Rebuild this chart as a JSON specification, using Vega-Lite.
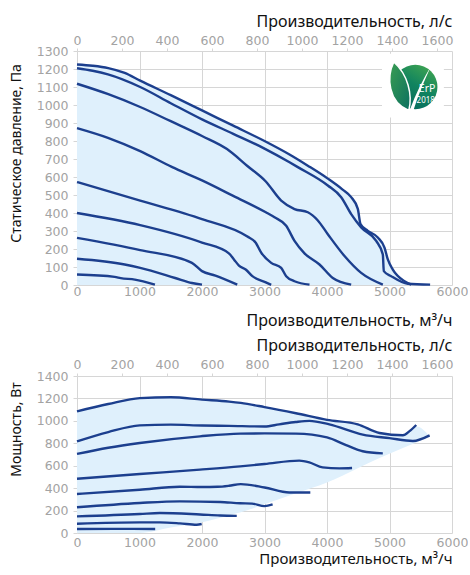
{
  "$schema": "https://vega.github.io/schema/vega-lite/v6.json",
  "padding": {"left": 9, "top": 13, "right": 0, "bottom": 0},
  "spacing": 8,
  "datasets": {
    "pres": [
      {"s":"c1","x":0,"y":1225},{"s":"c1","x":250,"y":1218},{"s":"c1","x":500,"y":1205},{"s":"c1","x":763,"y":1178},{"s":"c1","x":1011,"y":1135},{"s":"c1","x":1500,"y":1055},{"s":"c1","x":2000,"y":970},{"s":"c1","x":2500,"y":885},{"s":"c1","x":3000,"y":800},{"s":"c1","x":3400,"y":725},{"s":"c1","x":3693,"y":663},{"s":"c1","x":4013,"y":591},{"s":"c1","x":4250,"y":530},{"s":"c1","x":4387,"y":488},{"s":"c1","x":4493,"y":423},{"s":"c1","x":4536,"y":339},{"s":"c1","x":4653,"y":301},{"s":"c1","x":4813,"y":264},{"s":"c1","x":4920,"y":208},{"s":"c1","x":4973,"y":142},{"s":"c1","x":5053,"y":86},{"s":"c1","x":5240,"y":21},{"s":"c1","x":5347,"y":2},
      {"s":"c2","x":0,"y":1204},{"s":"c2","x":250,"y":1190},{"s":"c2","x":495,"y":1170},{"s":"c2","x":1011,"y":1100},{"s":"c2","x":1500,"y":1010},{"s":"c2","x":2000,"y":920},{"s":"c2","x":2500,"y":840},{"s":"c2","x":3000,"y":758},{"s":"c2","x":3400,"y":682},{"s":"c2","x":3533,"y":655},{"s":"c2","x":4013,"y":553},{"s":"c2","x":4227,"y":488},{"s":"c2","x":4387,"y":394},{"s":"c2","x":4547,"y":320},{"s":"c2","x":4787,"y":245},{"s":"c2","x":4893,"y":170},{"s":"c2","x":4909,"y":77},{"s":"c2","x":5027,"y":49},{"s":"c2","x":5293,"y":7},{"s":"c2","x":5650,"y":2},
      {"s":"c3","x":0,"y":1118},{"s":"c3","x":500,"y":1060},{"s":"c3","x":1011,"y":989},{"s":"c3","x":1500,"y":910},{"s":"c3","x":2000,"y":828},{"s":"c3","x":2400,"y":755},{"s":"c3","x":2726,"y":661},{"s":"c3","x":3021,"y":575},{"s":"c3","x":3267,"y":469},{"s":"c3","x":3480,"y":422},{"s":"c3","x":3693,"y":404},{"s":"c3","x":3850,"y":360},{"s":"c3","x":4013,"y":282},{"s":"c3","x":4280,"y":161},{"s":"c3","x":4547,"y":67},{"s":"c3","x":4893,"y":2},
      {"s":"c4","x":0,"y":872},{"s":"c4","x":495,"y":818},{"s":"c4","x":1011,"y":744},{"s":"c4","x":1516,"y":656},{"s":"c4","x":2000,"y":581},{"s":"c4","x":2500,"y":495},{"s":"c4","x":3021,"y":404},{"s":"c4","x":3160,"y":376},{"s":"c4","x":3347,"y":329},{"s":"c4","x":3480,"y":245},{"s":"c4","x":3640,"y":176},{"s":"c4","x":3880,"y":114},{"s":"c4","x":4093,"y":39},{"s":"c4","x":4387,"y":2},
      {"s":"c5","x":0,"y":572},{"s":"c5","x":1011,"y":469},{"s":"c5","x":2000,"y":366},{"s":"c5","x":2726,"y":269},{"s":"c5","x":2860,"y":235},{"s":"c5","x":2947,"y":180},{"s":"c5","x":3107,"y":123},{"s":"c5","x":3267,"y":95},{"s":"c5","x":3347,"y":49},{"s":"c5","x":3480,"y":21},{"s":"c5","x":3720,"y":2},
      {"s":"c6","x":0,"y":400},{"s":"c6","x":1011,"y":333},{"s":"c6","x":2000,"y":236},{"s":"c6","x":2430,"y":176},{"s":"c6","x":2511,"y":142},{"s":"c6","x":2591,"y":108},{"s":"c6","x":2699,"y":86},{"s":"c6","x":2806,"y":49},{"s":"c6","x":3021,"y":15},{"s":"c6","x":3107,"y":1},
      {"s":"c7","x":0,"y":262},{"s":"c7","x":1011,"y":194},{"s":"c7","x":1839,"y":123},{"s":"c7","x":2000,"y":77},{"s":"c7","x":2215,"y":52},{"s":"c7","x":2564,"y":2},
      {"s":"c8","x":0,"y":146},{"s":"c8","x":763,"y":114},{"s":"c8","x":1011,"y":95},{"s":"c8","x":1570,"y":39},{"s":"c8","x":1839,"y":11},{"s":"c8","x":2000,"y":2},
      {"s":"c9","x":0,"y":58},{"s":"c9","x":602,"y":45},{"s":"c9","x":700,"y":38},{"s":"c9","x":925,"y":30},{"s":"c9","x":1247,"y":2}
    ],
    "pfill": [
      {"x":0,"y":1225},{"x":250,"y":1218},{"x":500,"y":1205},{"x":763,"y":1178},{"x":1011,"y":1135},{"x":1500,"y":1055},{"x":2000,"y":970},{"x":2500,"y":885},{"x":3000,"y":800},{"x":3400,"y":725},{"x":3693,"y":663},{"x":4013,"y":591},{"x":4250,"y":530},{"x":4387,"y":488},{"x":4493,"y":423},{"x":4536,"y":339},{"x":4653,"y":301},{"x":4813,"y":264},{"x":4920,"y":208},{"x":4973,"y":142},{"x":5053,"y":86},{"x":5240,"y":21},{"x":5347,"y":3},{"x":5650,"y":0}
    ],
    "pow": [
      {"s":"A","x":0,"y":1085},{"s":"A","x":500,"y":1150},{"s":"A","x":1005,"y":1203},{"s":"A","x":1500,"y":1210},{"s":"A","x":2000,"y":1189},{"s":"A","x":2433,"y":1172},{"s":"A","x":2620,"y":1160},{"s":"A","x":3000,"y":1123},{"s":"A","x":3503,"y":1068},{"s":"A","x":4000,"y":1009},{"s":"A","x":4492,"y":969},{"s":"A","x":4840,"y":892},{"s":"A","x":5214,"y":871},{"s":"A","x":5321,"y":908},{"s":"A","x":5428,"y":963},
      {"s":"B","x":0,"y":817},{"s":"B","x":500,"y":900},{"s":"B","x":1005,"y":960},{"s":"B","x":1500,"y":966},{"s":"B","x":2000,"y":958},{"s":"B","x":2433,"y":955},{"s":"B","x":3000,"y":950},{"s":"B","x":3235,"y":969},{"s":"B","x":3500,"y":990},{"s":"B","x":3717,"y":1000},{"s":"B","x":4037,"y":969},{"s":"B","x":4572,"y":877},{"s":"B","x":5000,"y":846},{"s":"B","x":5374,"y":821},{"s":"B","x":5642,"y":871},
      {"s":"C","x":0,"y":705},{"s":"C","x":500,"y":760},{"s":"C","x":1005,"y":803},{"s":"C","x":1968,"y":862},{"s":"C","x":2610,"y":886},{"s":"C","x":3000,"y":888},{"s":"C","x":3503,"y":886},{"s":"C","x":4000,"y":852},{"s":"C","x":4305,"y":784},{"s":"C","x":4572,"y":729},{"s":"C","x":4893,"y":710},
      {"s":"D","x":0,"y":484},{"s":"D","x":1005,"y":526},{"s":"D","x":1968,"y":565},{"s":"D","x":2610,"y":594},{"s":"D","x":3000,"y":615},{"s":"D","x":3556,"y":645},{"s":"D","x":3717,"y":630},{"s":"D","x":3930,"y":585},{"s":"D","x":4198,"y":576},{"s":"D","x":4401,"y":579},
      {"s":"E","x":0,"y":348},{"s":"E","x":1005,"y":386},{"s":"E","x":1645,"y":413},{"s":"E","x":2000,"y":410},{"s":"E","x":2250,"y":412},{"s":"E","x":2433,"y":421},{"s":"E","x":2620,"y":436},{"s":"E","x":3000,"y":406},{"s":"E","x":3396,"y":361},{"s":"E","x":3733,"y":361},
      {"s":"F","x":0,"y":229},{"s":"F","x":1005,"y":268},{"s":"F","x":1645,"y":282},{"s":"F","x":2289,"y":277},{"s":"F","x":2610,"y":265},{"s":"F","x":2800,"y":262},{"s":"F","x":3000,"y":240},{"s":"F","x":3130,"y":255},
      {"s":"G","x":0,"y":148},{"s":"G","x":1005,"y":169},{"s":"G","x":1326,"y":178},{"s":"G","x":1968,"y":165},{"s":"G","x":2289,"y":156},{"s":"G","x":2556,"y":153},
      {"s":"H","x":0,"y":83},{"s":"H","x":1005,"y":95},{"s":"H","x":1326,"y":95},{"s":"H","x":1647,"y":86},{"s":"H","x":1914,"y":74},{"s":"H","x":1995,"y":80},
      {"s":"I","x":0,"y":36},{"s":"I","x":600,"y":37},{"s":"I","x":1251,"y":36}
    ],
    "wfill": [
      {"x":0,"y":1085,"y2":0},{"x":500,"y":1150,"y2":0},{"x":1005,"y":1203,"y2":0},{"x":1500,"y":1210,"y2":48},{"x":2000,"y":1189,"y2":95},{"x":2433,"y":1172,"y2":157},{"x":2620,"y":1160,"y2":184},{"x":3000,"y":1123,"y2":257},{"x":3503,"y":1068,"y2":354},{"x":4000,"y":1009,"y2":450},{"x":4492,"y":969,"y2":578},{"x":4840,"y":892,"y2":668},{"x":5214,"y":875,"y2":759},{"x":5428,"y":950,"y2":808},{"x":5650,"y":860,"y2":860}
    ]
  },
  "vconcat": [
    {
      "width": 375,
      "height": 234,
      "layer": [
        {
          "layer": [
            {
              "data": {"name": "pfill"},
              "mark": {"type": "area", "color": "#dff0fc", "interpolate": "monotone"},
              "encoding": {
                "x": {"field": "x", "type": "quantitative", "scale": {"domain": [0, 6000], "nice": false},
                  "axis": {"values": [0,1000,2000,3000,4000,5000,6000], "tickCount": 20, "format": "d", "labelOverlap": false, "labelFlush": false, "title": "Производительность, м³/ч", "titleAnchor": "end", "tickSize": 0, "labelPadding": 0, "titlePadding": 15, "domain": false}},
                "y": {"field": "y", "type": "quantitative", "scale": {"domain": [0, 1300], "nice": false},
                  "axis": {"values": [0,100,200,300,400,500,600,700,800,900,1000,1100,1200,1300], "tickCount": 30, "format": "d", "labelOverlap": false, "labelFlush": false, "title": "Статическое давление, Па", "titleFontSize": 14, "titleY": 102, "tickSize": 4, "labelPadding": 5, "titlePadding": 13, "domain": false}}
              }
            },
            {
              "data": {"values": [{"x": 4880, "x2": 5870, "y": 930, "y2": 1285}]},
              "mark": {"type": "rect", "color": "white"},
              "encoding": {
                "x": {"field": "x", "type": "quantitative"}, "x2": {"field": "x2"},
                "y": {"field": "y", "type": "quantitative"}, "y2": {"field": "y2"}
              }
            },
            {
              "data": {"name": "pres"},
              "mark": {"type": "line", "color": "#1c3f8e", "strokeWidth": 2.4, "interpolate": "monotone"},
              "encoding": {
                "x": {"field": "x", "type": "quantitative"},
                "y": {"field": "y", "type": "quantitative"},
                "detail": {"field": "s"}
              }
            },
            {
              "data": {"values": [{"x": 5413, "y": 1100}]},
              "mark": {"type": "point", "shape": "circle", "filled": true, "size": 1963, "opacity": 1, "strokeWidth": 0,
                "fill": {"gradient": "linear", "x1": 0.9, "y1": 0, "x2": 0.3, "y2": 1, "stops": [{"offset": 0, "color": "#45a84f"}, {"offset": 0.5, "color": "#11845f"}, {"offset": 1, "color": "#066a5f"}]}},
              "encoding": {"x": {"field": "x", "type": "quantitative"}, "y": {"field": "y", "type": "quantitative"}}
            },
            {
              "data": {"values": [{"x": 5413, "y": 1100}]},
              "mark": {"type": "point", "shape": "M -0.26 0.94 C -1.1 0.6 -1.15 -0.4 -0.86 -1.0 C -0.3 -0.5 -0.1 0.3 -0.26 0.94 Z", "filled": true, "size": 2500, "opacity": 1, "stroke": "white", "strokeWidth": 1.5,
                "fill": {"gradient": "linear", "x1": 0, "y1": 0, "x2": 1, "y2": 1, "stops": [{"offset": 0, "color": "#3a9d52"}, {"offset": 1, "color": "#0b7060"}]}},
              "encoding": {"x": {"field": "x", "type": "quantitative"}, "y": {"field": "y", "type": "quantitative"}}
            },
            {
              "data": {"values": [{"x": 5413, "y": 1100}]},
              "mark": {"type": "point", "shape": "M 0.64 -0.86 C 0.3 -0.3 0.0 0.3 -0.22 0.92 L -0.08 0.95 C 0.12 0.3 0.38 -0.3 0.64 -0.86 Z", "filled": true, "size": 2500, "opacity": 1, "fill": "white", "strokeWidth": 0},
              "encoding": {"x": {"field": "x", "type": "quantitative"}, "y": {"field": "y", "type": "quantitative"}}
            },
            {
              "data": {"values": [{"x": 5601, "y": 1088, "t": "ErP"}]},
              "mark": {"type": "text", "color": "white", "font": "Noto Sans", "fontSize": 10.5, "baseline": "middle", "align": "center"},
              "encoding": {"x": {"field": "x", "type": "quantitative"}, "y": {"field": "y", "type": "quantitative"}, "text": {"field": "t"}}
            },
            {
              "data": {"values": [{"x": 5580, "y": 1022, "t": "2018"}]},
              "mark": {"type": "text", "color": "white", "font": "Noto Sans", "fontSize": 8, "baseline": "middle", "align": "center"},
              "encoding": {"x": {"field": "x", "type": "quantitative"}, "y": {"field": "y", "type": "quantitative"}, "text": {"field": "t"}}
            }
          ]
        },
        {
          "data": {"values": [{"ls": 0}, {"ls": 1666.6667}]},
          "mark": {"type": "rule", "strokeOpacity": 0},
          "encoding": {
            "x": {"field": "ls", "type": "quantitative", "scale": {"domain": [0, 1666.6667], "nice": false},
              "axis": {"orient": "top", "values": [0,200,400,600,800,1000,1200,1400,1600], "tickCount": 20, "format": "d", "labelOverlap": false, "labelFlush": false, "title": "Производительность, л/с", "titleAnchor": "end", "grid": false, "tickSize": 3, "labelPadding": 1, "titlePadding": 5, "domain": false}}
          }
        }
      ],
      "resolve": {"scale": {"x": "independent"}}
    },
    {
      "width": 375,
      "height": 157,
      "layer": [
        {
          "layer": [
            {
              "data": {"name": "wfill"},
              "mark": {"type": "area", "color": "#dff0fc", "interpolate": "monotone"},
              "encoding": {
                "x": {"field": "x", "type": "quantitative", "scale": {"domain": [0, 6000], "nice": false},
                  "axis": {"values": [0,1000,2000,3000,4000,5000,6000], "tickCount": 20, "format": "d", "labelOverlap": false, "labelFlush": false, "title": "Производительность, м³/ч", "titleFontSize": 15, "titleAnchor": "end", "tickSize": 0, "labelPadding": 3, "titlePadding": 3, "domain": false}},
                "y": {"field": "y", "type": "quantitative", "scale": {"domain": [0, 1400], "nice": false},
                  "axis": {"values": [0,200,400,600,800,1000,1200,1400], "tickCount": 30, "format": "d", "labelOverlap": false, "labelFlush": false, "title": "Мощность, Вт", "titleFontSize": 14, "titleY": 53, "tickSize": 4, "labelPadding": 5, "titlePadding": 13, "domain": false}},
                "y2": {"field": "y2"}
              }
            },
            {
              "data": {"name": "pow"},
              "mark": {"type": "line", "color": "#1c3f8e", "strokeWidth": 2.4, "interpolate": "monotone"},
              "encoding": {
                "x": {"field": "x", "type": "quantitative"},
                "y": {"field": "y", "type": "quantitative"},
                "detail": {"field": "s"}
              }
            }
          ]
        },
        {
          "data": {"values": [{"ls": 0}, {"ls": 1666.6667}]},
          "mark": {"type": "rule", "strokeOpacity": 0},
          "encoding": {
            "x": {"field": "ls", "type": "quantitative", "scale": {"domain": [0, 1666.6667], "nice": false},
              "axis": {"orient": "top", "values": [0,200,400,600,800,1000,1200,1400,1600], "tickCount": 20, "format": "d", "labelOverlap": false, "labelFlush": false, "title": "Производительность, л/с", "titleAnchor": "end", "grid": false, "tickSize": 3, "labelPadding": 2, "titlePadding": 5, "domain": false}}
          }
        }
      ],
      "resolve": {"scale": {"x": "independent"}}
    }
  ],
  "config": {
    "view": {"stroke": null},
    "axis": {
      "labelFont": "DejaVu Sans", "labelFontSize": 12.5, "labelColor": "#a3a3a3", "labelOverlap": false, "labelFlush": false,
      "titleFont": "Noto Sans", "titleFontSize": 16, "titleFontWeight": "normal", "titleColor": "#111111",
      "gridColor": "#d6d6d6", "tickColor": "#d6d6d6", "domainColor": "#d6d6d6"
    }
  }
}
